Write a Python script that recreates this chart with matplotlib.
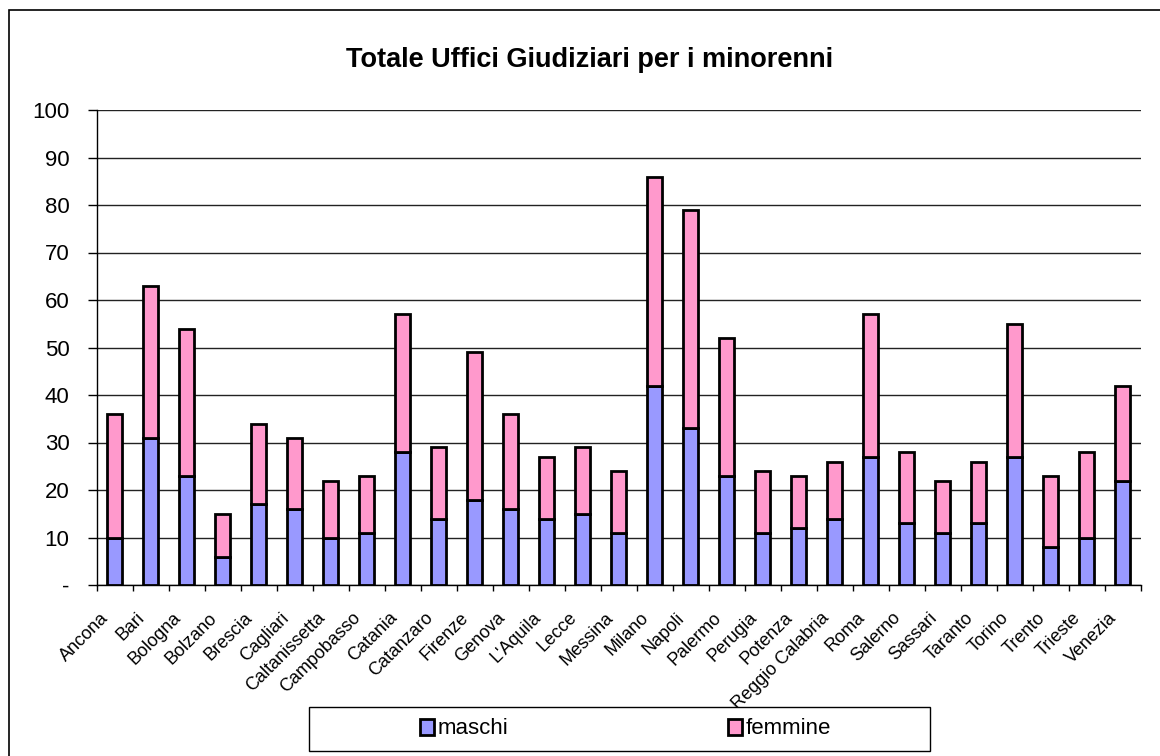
import matplotlib.pyplot as plt
import numpy as np
from matplotlib.patches import Rectangle

plt.rcParams['font.family'] = ['Liberation Sans', 'DejaVu Sans']

citta = ['Ancona', 'Bari', 'Bologna', 'Bolzano', 'Brescia', 'Cagliari', 'Caltanissetta',
         'Campobasso', 'Catania', 'Catanzaro', 'Firenze', 'Genova', "L'Aquila", 'Lecce',
         'Messina', 'Milano', 'Napoli', 'Palermo', 'Perugia', 'Potenza', 'Reggio Calabria',
         'Roma', 'Salerno', 'Sassari', 'Taranto', 'Torino', 'Trento', 'Trieste', 'Venezia']
maschi = [10, 31, 23, 6, 17, 16, 10, 11, 28, 14, 18, 16, 14, 15, 11, 42, 33, 23, 11, 12,
          14, 27, 13, 11, 13, 27, 8, 10, 22]
femmine = [26, 32, 31, 9, 17, 15, 12, 12, 29, 15, 31, 20, 13, 14, 13, 44, 46, 29, 13, 11,
           12, 30, 15, 11, 13, 28, 15, 18, 20]
yticks = list(range(0, 101, 10))
ylabels = ['-'] + [str(v) for v in yticks[1:]]

W, H = 1160, 756
fig = plt.figure(figsize=(W / 100, H / 100), dpi=100)
# cornice esterna (in stile Excel)
fig.patches.append(Rectangle((8.5 / W, -0.01), 1.05, 1 - 10 / H + 0.01,
                             transform=fig.transFigure, fill=False, ec='black', lw=1.2))

ax = fig.add_axes([96.7 / W, 1 - 585 / H, (1140.7 - 96.7) / W, (585 - 110) / H])
x = np.arange(len(citta))
b1 = ax.bar(x, maschi, width=0.42, color='#9999FF', edgecolor='black', linewidth=2,
            label='maschi', zorder=3)
b2 = ax.bar(x, femmine, width=0.42, bottom=maschi, color='#FF99CC', edgecolor='black',
            linewidth=2, label='femmine', zorder=3)

ax.set_xlim(-0.5, len(citta) - 0.5)
ax.set_ylim(0, 100)
ax.set_yticks(yticks)
ax.set_yticklabels(ylabels, fontsize=16)
ax.yaxis.grid(True, color='#222222', linewidth=1)
ax.set_axisbelow(True)

# etichette ruotate: ancorate un po' a sinistra del centro della barra
ax.set_xticks(x - 0.4)
ax.set_xticklabels(citta, rotation=45, ha='right', va='top', rotation_mode='anchor', fontsize=13)
ax.set_xticks(np.arange(-0.5, len(citta), 1), minor=True)
ax.tick_params(axis='x', which='major', length=0, pad=17.5)
ax.tick_params(axis='x', which='minor', length=4.5, width=1)
ax.tick_params(axis='y', length=6.5, width=1, pad=13)

for s in ['top', 'right']:
    ax.spines[s].set_visible(False)
ax.spines['left'].set_linewidth(1)
ax.spines['bottom'].set_linewidth(1)

fig.text(590 / W, 1 - 60 / H, 'Totale Uffici Giudiziari per i minorenni', ha='center',
         va='center', fontsize=19.5, fontweight='bold')

# riquadro della legenda
fig.patches.append(Rectangle((309 / W, 1 - 751 / H), (930 - 309) / W, 44 / H,
                             transform=fig.transFigure, fill=True, fc='white', ec='black',
                             lw=1, zorder=2))
ly = 1 - 729 / H
for h, lx in [(b1, 420), (b2, 728)]:
    lg = fig.legend(handles=[h], loc='center left', bbox_to_anchor=(lx / W, ly), fontsize=16,
                    frameon=False, handlelength=0.65, handleheight=0.75, handletextpad=0.15,
                    borderpad=0, borderaxespad=0)
    lg.set_zorder(3)

fig.savefig('out.png', dpi=100)
